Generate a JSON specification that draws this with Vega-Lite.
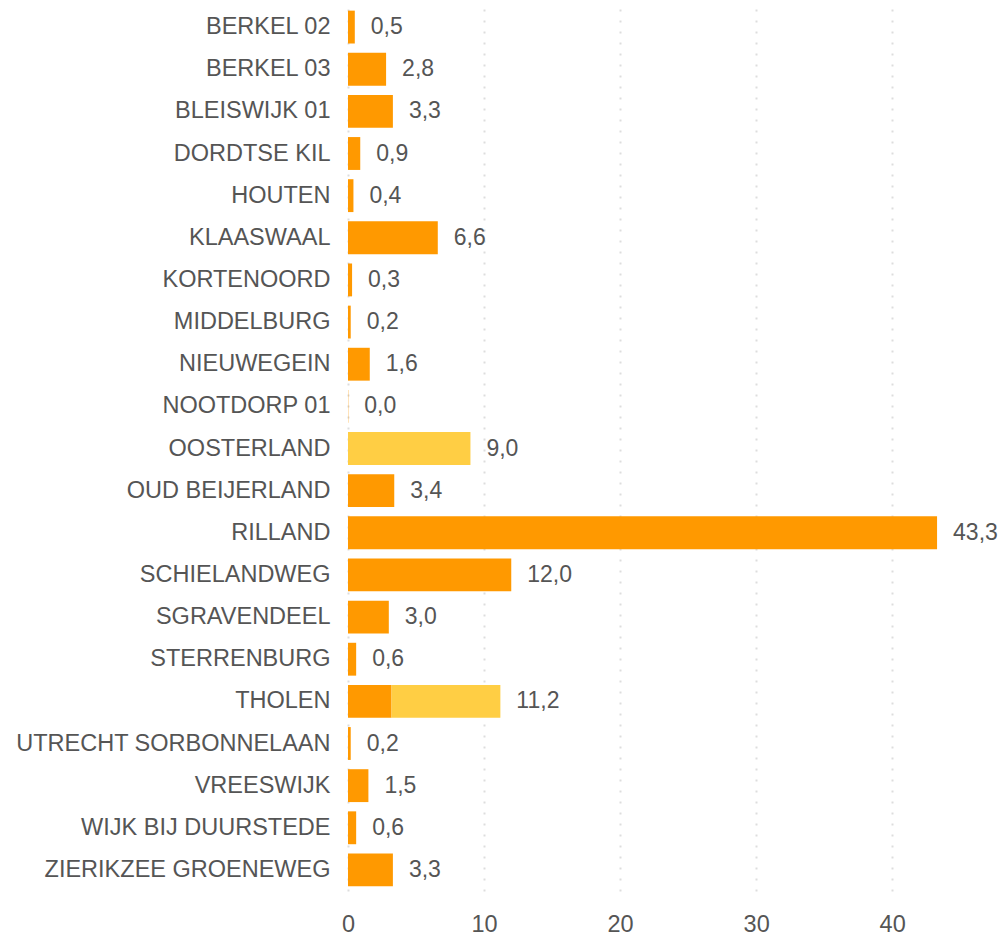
{
  "$schema": "https://vega.github.io/schema/vega-lite/v6.json",
  "width": 653,
  "height": 885,
  "padding": {"left": 15, "top": 6, "right": 0, "bottom": 0},
  "background": "white",
  "config": {
    "view": {"stroke": null},
    "font": "Liberation Sans",
    "locale": {"number": {"decimal": ",", "thousands": ".", "grouping": [3], "currency": ["€", ""]}},
    "axis": {"labelFont": "Liberation Sans", "labelColor": "#555555", "labelFontSize": 23.5}
  },
  "data": {
    "values": [
      {"name": "BERKEL 02", "type": "oranje", "value": 0.5},
      {"name": "BERKEL 03", "type": "oranje", "value": 2.8},
      {"name": "BLEISWIJK 01", "type": "oranje", "value": 3.3},
      {"name": "DORDTSE KIL", "type": "oranje", "value": 0.9},
      {"name": "HOUTEN", "type": "oranje", "value": 0.4},
      {"name": "KLAASWAAL", "type": "oranje", "value": 6.6},
      {"name": "KORTENOORD", "type": "oranje", "value": 0.3},
      {"name": "MIDDELBURG", "type": "oranje", "value": 0.2},
      {"name": "NIEUWEGEIN", "type": "oranje", "value": 1.6},
      {"name": "NOOTDORP 01", "type": "oranje", "value": 0.02},
      {"name": "OOSTERLAND", "type": "geel", "value": 9.0},
      {"name": "OUD BEIJERLAND", "type": "oranje", "value": 3.4},
      {"name": "RILLAND", "type": "oranje", "value": 43.3},
      {"name": "SCHIELANDWEG", "type": "oranje", "value": 12.0},
      {"name": "SGRAVENDEEL", "type": "oranje", "value": 3.0},
      {"name": "STERRENBURG", "type": "oranje", "value": 0.6},
      {"name": "THOLEN", "type": "oranje", "value": 3.2},
      {"name": "THOLEN", "type": "geel", "value": 8.0},
      {"name": "UTRECHT SORBONNELAAN", "type": "oranje", "value": 0.2},
      {"name": "VREESWIJK", "type": "oranje", "value": 1.5},
      {"name": "WIJK BIJ DUURSTEDE", "type": "oranje", "value": 0.6},
      {"name": "ZIERIKZEE GROENEWEG", "type": "oranje", "value": 3.3}
    ]
  },
  "encoding": {
    "y": {
      "field": "name",
      "type": "nominal",
      "sort": null,
      "title": null,
      "scale": {"paddingInner": 0.22, "paddingOuter": 0.11},
      "axis": {"ticks": false, "domain": false, "labelPadding": 18, "labelLimit": 400}
    }
  },
  "layer": [
    {
      "mark": {"type": "bar"},
      "encoding": {
        "x": {
          "field": "value",
          "type": "quantitative",
          "aggregate": "sum",
          "stack": "zero",
          "title": null,
          "scale": {"domain": [0, 48], "nice": false},
          "axis": {
            "values": [0, 10, 20, 30, 40],
            "ticks": false,
            "domain": false,
            "labelFlush": false,
            "labelPadding": 21,
            "grid": true,
            "gridColor": "#dddddd",
            "gridDash": [2, 9],
            "gridWidth": 2
          }
        },
        "color": {
          "field": "type",
          "type": "nominal",
          "scale": {"domain": ["oranje", "geel"], "range": ["#FF9900", "#FFCE44"]},
          "legend": null
        },
        "order": {"field": "type", "sort": "descending"}
      }
    },
    {
      "transform": [
        {"aggregate": [{"op": "sum", "field": "value", "as": "total"}], "groupby": ["name"]}
      ],
      "mark": {"type": "text", "align": "left", "baseline": "middle", "dx": 16, "fontSize": 23, "color": "#555555", "font": "Liberation Sans"},
      "encoding": {
        "x": {"field": "total", "type": "quantitative"},
        "text": {"field": "total", "type": "quantitative", "format": ".1f", "formatType": "number"}
      }
    }
  ]
}
